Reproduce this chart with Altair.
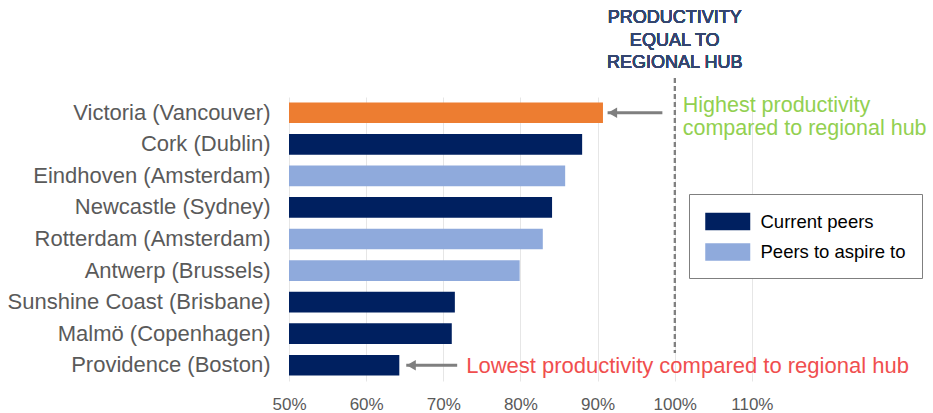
import altair as alt
import pandas as pd

# ---- data ----
cities = [
    "Victoria (Vancouver)", "Cork (Dublin)", "Eindhoven (Amsterdam)",
    "Newcastle (Sydney)", "Rotterdam (Amsterdam)", "Antwerp (Brussels)",
    "Sunshine Coast (Brisbane)", "Malmö (Copenhagen)", "Providence (Boston)",
]
productivity = [0.907, 0.880, 0.858, 0.841, 0.829, 0.799, 0.715, 0.711, 0.643]
groups = [
    "Highlight", "Current peers", "Peers to aspire to", "Current peers",
    "Peers to aspire to", "Peers to aspire to", "Current peers",
    "Current peers", "Current peers",
]

group_names = ["Current peers", "Peers to aspire to", "Highlight"]
group_colors = ["#002060", "#8FAADC", "#ED7D31"]
legend_groups = ["Current peers", "Peers to aspire to"]

tick_values = [0.5, 0.6, 0.7, 0.8, 0.9, 1.0, 1.1]
x_domain = [0.5, 1.2]

hub_level = 1.0
hub_label = ["PRODUCTIVITY", "EQUAL TO", "REGIONAL HUB"]

arrow_cities = ["Victoria (Vancouver)", "Providence (Boston)"]
arrow_tips = [0.913, 0.652]
arrow_tails = [0.984, 0.718]

note_high = ["Highest productivity", "compared to regional hub"]
note_low = "Lowest productivity compared to regional hub"

FONT = "Liberation Sans"
GRAY = "#5A5A5A"

df = pd.DataFrame({"city": cities, "value": productivity, "group": groups})
arrows = pd.DataFrame({"city": arrow_cities, "tip": arrow_tips, "tail": arrow_tails})

y_enc = alt.Y(
    "city:N",
    sort=cities,
    scale=alt.Scale(paddingInner=0.345, paddingOuter=0.1725),
    axis=alt.Axis(
        title=None, ticks=False, domain=False, labelFontSize=22,
        labelColor=GRAY, labelPadding=19, labelLimit=400, labelFont=FONT,
    ),
)
x_scale = alt.Scale(domain=x_domain, nice=False, zero=False)

bars = alt.Chart(df).mark_bar(clip=True).encode(
    y=y_enc,
    x=alt.X(
        "value:Q",
        scale=x_scale,
        axis=alt.Axis(
            title=None, values=tick_values, format=".0%", ticks=False,
            domain=False, grid=True, gridColor="#E6E6E6", labelFontSize=17,
            labelColor=GRAY, labelPadding=15, labelFont=FONT, labelFlush=False,
        ),
    ),
    color=alt.Color(
        "group:N",
        scale=alt.Scale(domain=group_names, range=group_colors),
        legend=alt.Legend(
            title=None, values=legend_groups, orient="none",
            legendX=400, legendY=97, direction="vertical",
            symbolType="M-1,-0.78H3V0.78H-1Z", symbolSize=506.25,
            symbolStrokeWidth=0, labelFontSize=18.5, labelColor="black",
            labelFont=FONT, labelOffset=32.5, padding=16, rowPadding=9.5,
            labelExpr="datum.label + '\u00a0\u00a0'",
            strokeColor="#7F7F7F", fillColor="white",
        ),
    ),
)

hub_line = alt.Chart(df).mark_rule(
    color="#808080", strokeDash=[5, 3], strokeWidth=1.5
).encode(
    x=alt.X(datum=hub_level, type="quantitative", scale=x_scale),
    y=alt.value(-19),
    y2=alt.value(256),
)

hub_text = alt.Chart(df).mark_text(
    align="center", baseline="middle", fontSize=18, lineHeight=22.5,
    color="#34466F", font=FONT, fontWeight="normal",
).encode(
    x=alt.X(datum=hub_level, type="quantitative", scale=x_scale),
    y=alt.value(-79),
    text=alt.value(hub_label),
)

arrow_lines = alt.Chart(arrows).mark_rule(color="#7F7F7F", strokeWidth=3).encode(
    y=alt.Y("city:N", sort=cities),
    x=alt.X("tip:Q", scale=x_scale),
    x2="tail:Q",
)

arrow_heads = alt.Chart(arrows).mark_point(
    shape="triangle-left", filled=True, size=110, color="#7F7F7F", opacity=1
).encode(
    y=alt.Y("city:N", sort=cities),
    x=alt.X("tip:Q", scale=x_scale),
    xOffset=alt.value(5),
)

high_df = pd.DataFrame({"city": [arrow_cities[0]], "value": [hub_level]})
high_text = alt.Chart(high_df).mark_text(
    align="left", baseline="middle", dx=8, dy=-7, fontSize=21.5,
    lineHeight=23, color="#92D050", font=FONT,
).encode(
    y=alt.Y("city:N", sort=cities),
    x=alt.X("value:Q", scale=x_scale),
    text=alt.value(note_high),
)

low_df = pd.DataFrame({"city": [arrow_cities[1]], "value": [arrow_tails[1]]})
low_text = alt.Chart(low_df).mark_text(
    align="left", baseline="middle", dx=9, dy=1, fontSize=22,
    color="#F04E4E", font=FONT,
).encode(
    y=alt.Y("city:N", sort=cities),
    x=alt.X("value:Q", scale=x_scale),
    text=alt.value(note_low),
)

chart = alt.layer(
    bars, hub_line, hub_text, arrow_lines, arrow_heads, high_text, low_text
).properties(
    width=540,
    height=284,
    padding={"left": 289, "top": 97, "right": 104, "bottom": 32},
    autosize="none",
    background="white",
).configure(font=FONT).configure_view(stroke=None)

chart.save("out.html", embed_options={"renderer": "svg", "actions": False})
